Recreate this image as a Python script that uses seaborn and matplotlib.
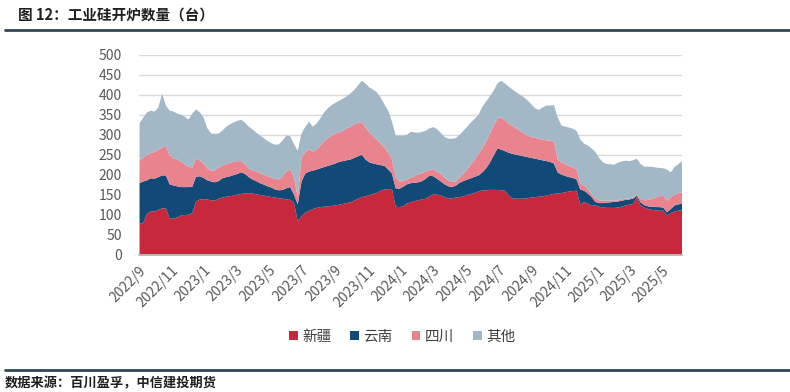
import numpy as np
import pandas as pd
import matplotlib
matplotlib.use("Agg")
import matplotlib.pyplot as plt
import matplotlib.dates as mdates
from matplotlib.patches import Patch
from matplotlib.lines import Line2D
import seaborn as sns

# weekly counts, 2022-09-02 .. 2025-06-06
weeks = pd.date_range("2022-09-02", periods=145, freq="7D")

xinjiang = [
    79, 82, 105, 110, 110, 114, 118, 118, 92, 92, 95, 100, 101, 102, 106,
    135, 140, 141, 140, 138, 137, 142, 145, 147, 148, 150, 152, 154, 155, 156,
    155, 153, 151, 150, 148, 146, 145, 143, 142, 140, 139, 132, 85, 98, 107,
    112, 116, 119, 121, 122, 123, 124, 125, 127, 129, 131, 133, 137, 142, 146,
    148, 151, 154, 156, 162, 165, 166, 166, 122, 121, 123, 130, 133, 136, 138,
    140, 142, 148, 154, 152, 150, 146, 142, 143, 145, 146, 148, 151, 154, 156,
    160, 163, 163, 164, 164, 164, 163, 162, 150, 143, 142, 142, 142, 143, 145,
    146, 147, 148, 150, 152, 154, 155, 156, 158, 160, 161, 162, 128, 133, 130,
    124, 125, 122, 120, 119, 119, 119, 120, 122, 125, 127, 129, 146, 125, 120,
    116, 114, 113, 112, 112, 100, 106, 110, 112, 113,
]
yunnan = [
    102, 103, 83, 83, 82, 82, 82, 82, 86, 83, 78, 71, 70, 69, 66,
    62, 58, 53, 48, 47, 46, 44, 48, 49, 50, 51, 52, 54, 49, 40,
    35, 33, 30, 27, 25, 24, 20, 20, 22, 28, 32, 20, 43, 87, 98,
    98, 96, 96, 97, 99, 101, 103, 105, 107, 107, 107, 107, 107, 106, 106,
    92, 82, 76, 72, 64, 59, 49, 39, 46, 46, 49, 48, 48, 46, 45,
    46, 50, 52, 44, 40, 35, 32, 31, 28, 30, 36, 38, 39, 39, 41,
    40, 45, 55, 68, 86, 103, 102, 99, 107, 111, 110, 108, 106, 103, 99,
    96, 93, 90, 86, 82, 76, 53, 46, 41, 36, 33, 28, 37, 29, 25,
    22, 9, 9, 11, 13, 14, 15, 15, 15, 14, 13, 13, 4, 8, 6,
    7, 8, 8, 9, 8, 8, 10, 15, 16, 16,
]
sichuan = [
    56, 60, 64, 63, 67, 68, 70, 75, 72, 68, 67, 64, 57, 51, 48,
    45, 40, 36, 30, 27, 30, 34, 32, 32, 34, 33, 32, 28, 24, 22,
    23, 24, 25, 25, 25, 25, 27, 27, 34, 42, 45, 43, 17, 60, 53,
    56, 48, 50, 57, 64, 70, 73, 75, 74, 76, 80, 82, 84, 84, 81,
    80, 75, 68, 62, 54, 46, 43, 35, 28, 18, 14, 12, 14, 16, 20,
    20, 18, 14, 18, 18, 19, 17, 14, 13, 10, 14, 19, 25, 35, 43,
    55, 60, 67, 73, 75, 75, 80, 77, 73, 70, 66, 62, 57, 54, 52,
    52, 52, 52, 52, 53, 55, 32, 31, 29, 28, 26, 26, 15, 13, 10,
    8, 9, 7, 6, 5, 4, 3, 3, 3, 3, 3, 3, 2, 9, 12,
    16, 20, 24, 27, 30, 29, 30, 27, 28, 29,
]
others = [
    93, 100, 106, 106, 101, 106, 135, 100, 112, 117, 115, 117, 119, 118, 135,
    123, 120, 115, 100, 93, 91, 85, 87, 94, 96, 99, 101, 103, 104, 104,
    102, 97, 94, 91, 88, 86, 85, 88, 90, 90, 82, 83, 117, 60, 64,
    69, 62, 65, 68, 73, 74, 76, 77, 79, 80, 80, 83, 86, 93, 104,
    110, 112, 117, 118, 115, 108, 104, 95, 104, 115, 114, 112, 114, 110, 104,
    103, 102, 104, 105, 106, 102, 101, 105, 108, 109, 106, 107, 107, 105, 102,
    97, 104, 100, 93, 87, 88, 92, 92, 92, 91, 90, 90, 91, 88, 82,
    74, 72, 80, 87, 88, 91, 105, 92, 94, 96, 97, 96, 110, 105, 110,
    114, 116, 106, 96, 92, 91, 90, 94, 95, 95, 93, 93, 90, 87, 84,
    83, 80, 75, 71, 68, 78, 62, 69, 72, 78,
]

series_names = ["新疆", "云南", "四川", "其他"]
colors = ["#C8283B", "#114A77", "#E9848F", "#A3B8C7"]

sns.set_theme(style="white")
plt.rcParams["font.family"] = ["Noto Sans CJK SC", "DejaVu Sans"]

fig = plt.figure(figsize=(7.9, 3.92), dpi=100)
ax = fig.add_axes([138.5 / 790, 1 - 255 / 392, 543 / 790, 200 / 392])

ax.stackplot(weeks, xinjiang, yunnan, sichuan, others,
             colors=colors, linewidth=0)

ax.set_ylim(0, 500)
ax.set_yticks(np.arange(0, 501, 50))
ax.set_xlim(pd.Timestamp("2022-09-01"), weeks[-1])
ax.yaxis.grid(True, color="#D9D9D9", lw=1)
ax.set_axisbelow(True)

ax.xaxis.set_major_locator(mdates.MonthLocator(bymonth=[1, 3, 5, 7, 9, 11]))
ax.xaxis.set_major_formatter(
    plt.FuncFormatter(lambda v, pos: f"{mdates.num2date(v).year}/{mdates.num2date(v).month}"))

sns.despine(ax=ax, left=True)
ax.spines["bottom"].set_color("#BFBFBF")
ax.tick_params(axis="x", direction="out", length=4, color="#BFBFBF",
               labelsize=10, labelcolor="#595959", pad=2)
ax.tick_params(axis="y", length=0, labelsize=10, labelcolor="#595959", pad=12)
for lab in ax.get_xticklabels():
    lab.set_rotation(45)
    lab.set_ha("right")
    lab.set_rotation_mode("anchor")

handles = [Patch(facecolor=c, edgecolor="none") for c in colors]
fig.legend(handles, series_names, loc="center", bbox_to_anchor=(0.509, 1 - 337 / 392),
           ncol=4, frameon=False, fontsize=10.5, handlelength=0.6, handleheight=0.6,
           handletextpad=0.3, columnspacing=1.3, labelcolor="#404040")

fig.text(18 / 790, 1 - 15 / 392, "图 12：工业硅开炉数量（台）", fontsize=10.5,
         fontweight="bold", color="#1F1F1F", va="center", ha="left")
fig.add_artist(Line2D([5 / 790, 1], [1 - 30 / 392] * 2, color="#2E4854", lw=2))
fig.add_artist(Line2D([5 / 790, 1], [1 - 370 / 392] * 2, color="#2E4854", lw=2))
fig.text(5 / 790, 1 - 383 / 392, "数据来源：百川盈孚，中信建投期货", fontsize=9.5,
         fontweight="bold", color="#1F1F1F", va="center", ha="left")

fig.savefig("out.png", dpi=100)
